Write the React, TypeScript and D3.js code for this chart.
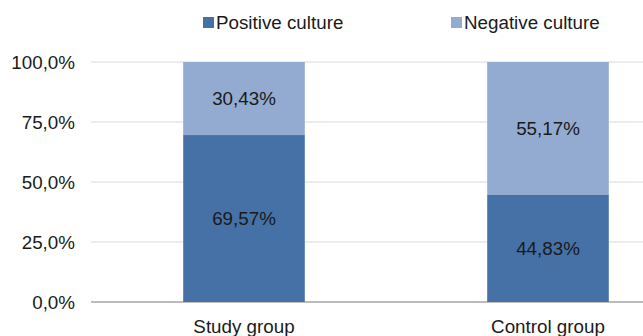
import React from "react";
import * as d3 from "d3";

const categories = ["Study group", "Control group"];
const positiveValues = [69.57, 44.83];
const negativeValues = [30.43, 55.17];
const yTicks = [0, 25, 50, 75, 100];
const seriesNames = ["Positive culture", "Negative culture"];
const seriesColors = ["#4571a7", "#93aad1"];

const W = 643, H = 336;
const fmtPct = (v: number) => v.toFixed(2).replace(".", ",") + "%";
const fmtTick = (v: number) => v.toFixed(1).replace(".", ",") + "%";

export default function App() {
  const y = d3.scaleLinear().domain([0, 100]).range([302, 62]);
  const x = d3.scaleBand<string>().domain(categories).range([92, 700]).paddingInner(0.6).paddingOuter(0.3);
  const font = "'Liberation Sans', Arial, sans-serif";
  const fs = 18.8;
  const stack = categories.map((c, i) => ({ c, pos: positiveValues[i], neg: negativeValues[i] }));
  const bw = x.bandwidth();
  return (
    <svg width={W} height={H} style={{ position: "absolute", left: 0, top: 0, background: "#fff" }} fontFamily={font}>
      {yTicks.map((t) => (
        <g key={t}>
          <line x1={91} x2={W} y1={y(t)} y2={y(t)} stroke={t === 0 ? "#a6a6a6" : "#d9d9d9"} strokeWidth={t === 0 ? 1.5 : 1} />
          <text x={75} y={y(t)} dy="0.35em" textAnchor="end" fontSize={fs} fill="#1a1a1a">{fmtTick(t)}</text>
        </g>
      ))}
      {stack.map((d) => {
        const x0 = x(d.c)!;
        return (
          <g key={d.c}>
            <rect x={x0} width={bw} y={y(d.pos)} height={y(0) - y(d.pos)} fill={seriesColors[0]} />
            <rect x={x0} width={bw} y={y(d.pos + d.neg)} height={y(d.pos) - y(d.pos + d.neg)} fill={seriesColors[1]} />
            <text x={x0 + bw / 2} y={(y(0) + y(d.pos)) / 2} dy="0.35em" textAnchor="middle" fontSize={fs} fill="#1a1a1a">{fmtPct(d.pos)}</text>
            <text x={x0 + bw / 2} y={(y(d.pos) + y(d.pos + d.neg)) / 2} dy="0.35em" textAnchor="middle" fontSize={fs} fill="#1a1a1a">{fmtPct(d.neg)}</text>
            <text x={x0 + bw / 2} y={326} dy="0.35em" textAnchor="middle" fontSize={fs} fill="#1a1a1a">{d.c}</text>
          </g>
        );
      })}
      {seriesNames.map((s, i) => {
        const lx = [203, 451][i];
        return (
          <g key={s}>
            <rect x={lx} y={17} width={11} height={11} fill={seriesColors[i]} />
            <text x={lx + 13} y={22} dy="0.35em" fontSize={fs} fill="#1a1a1a">{s}</text>
          </g>
        );
      })}
    </svg>
  );
}
